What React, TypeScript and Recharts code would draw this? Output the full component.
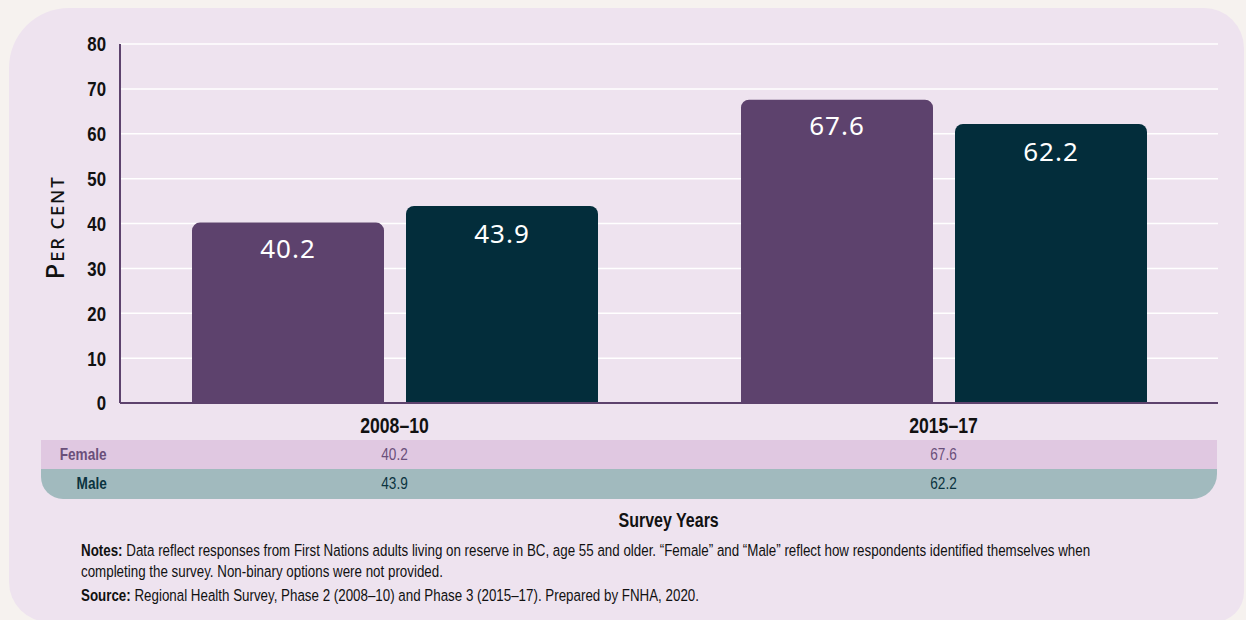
import React from "react";
import {
  BarChart, Bar, XAxis, YAxis, CartesianGrid, LabelList, Label,
} from "recharts";

// Share of adults 55+ (per cent), by survey period and gender
const years = ["2008–10", "2015–17"];
const female = [40.2, 67.6];
const male = [43.9, 62.2];
const yTicks = [0, 10, 20, 30, 40, 50, 60, 70, 80];

const data = years.map((y, i) => ({ year: y, female: female[i], male: male[i] }));

const FEMALE = "#5d426d";
const MALE = "#032d3b";
const SANS = "'Liberation Sans', Arial, sans-serif";
const GEO = "'Noto Sans', 'Open Sans', sans-serif";
const SQUEEZE = 0.8; // no narrow font installed, so squeeze Liberation Sans

const PLOT_L = 120;
const PLOT_R = 1218;
const band = (PLOT_R - PLOT_L) / years.length;

function NarrowTick(props: any) {
  const { x, y, payload, textAnchor, fontSize, dy } = props;
  return (
    <g transform={`translate(${x},${y}) scale(${SQUEEZE},1)`}>
      <text x={0} y={0} dy={dy} textAnchor={textAnchor} fill="#111" fontFamily={SANS} fontWeight={700} fontSize={fontSize}>
        {payload.value}
      </text>
    </g>
  );
}

function PerCentLabel(props: any) {
  const vb = props.viewBox || { x: 60, y: 44, height: 359 };
  const cx = vb.x + 4;
  const cy = vb.y + vb.height / 2 + 4;
  return (
    <text
      x={cx}
      y={cy}
      transform={`rotate(-90, ${cx}, ${cy})`}
      textAnchor="middle"
      fill="#111"
      fontFamily={GEO}
      fontWeight={500}
      letterSpacing={1.8}
    >
      <tspan fontSize={26}>P</tspan>
      <tspan fontSize={18.5}>ER CENT</tspan>
    </text>
  );
}

function Narrow({ children, origin = "left", style }: { children: React.ReactNode; origin?: string; style?: React.CSSProperties }) {
  return (
    <span style={{ display: "inline-block", whiteSpace: "nowrap", transform: `scaleX(${SQUEEZE})`, transformOrigin: origin, ...style }}>
      {children}
    </span>
  );
}

export default function App() {
  const rowLabel: React.CSSProperties = {
    position: "absolute", left: 0, width: 107, textAlign: "right",
    fontFamily: SANS, fontWeight: 700, fontSize: 17,
  };
  const rowValue = (i: number): React.CSSProperties => ({
    position: "absolute", left: PLOT_L + band * (i + 0.5) - 41 - 50, width: 100,
    textAlign: "center", fontFamily: SANS, fontSize: 17,
  });
  const noteStyle: React.CSSProperties = {
    position: "absolute", left: 81, fontFamily: SANS, fontSize: 16.7, lineHeight: "20px", color: "#111",
  };

  return (
    <div style={{ position: "absolute", left: 0, top: 0, width: 1246, height: 620, background: "#f6f2ef", overflow: "hidden" }}>
      <div
        style={{
          position: "absolute", left: 9, top: 8, width: 1235, height: 614,
          background: "#eee3ef", borderRadius: "60px 40px 30px 40px",
        }}
      />
      <div style={{ position: "absolute", left: 0, top: 0 }}>
        <BarChart
          width={1246}
          height={440}
          data={data}
          margin={{ top: 44, right: 1246 - PLOT_R, left: 60, bottom: 7 }}
          barSize={192}
          barGap={22}
        >
          <CartesianGrid vertical={false} stroke="#ffffff" strokeWidth={1.5} />
          <XAxis
            dataKey="year"
            height={30}
            tickLine={false}
            tickMargin={8}
            axisLine={{ stroke: "#5d426d", strokeWidth: 2 }}
            tick={<NarrowTick fontSize={22} dy="0.71em" />}
          />
          <YAxis
            width={60}
            domain={[0, 80]}
            ticks={yTicks}
            interval={0}
            tickLine={false}
            tickMargin={8}
            axisLine={{ stroke: "#5d426d", strokeWidth: 2 }}
            tick={<NarrowTick fontSize={21} dy="0.355em" />}
          >
            <Label content={<PerCentLabel />} />
          </YAxis>
          <Bar dataKey="female" fill={FEMALE} radius={[8, 8, 0, 0]} isAnimationActive={false}>
            <LabelList
              dataKey="female"
              position="insideTop"
              offset={17}
              fill="#fff"
              style={{ fontFamily: GEO, fontSize: 26, letterSpacing: 1 }}
            />
          </Bar>
          <Bar dataKey="male" fill={MALE} radius={[8, 8, 0, 0]} isAnimationActive={false}>
            <LabelList
              dataKey="male"
              position="insideTop"
              offset={19}
              fill="#fff"
              style={{ fontFamily: GEO, fontSize: 26, letterSpacing: 1 }}
            />
          </Bar>
        </BarChart>
      </div>

      {/* data table under the axis */}
      <div style={{ position: "absolute", left: 41, top: 440, width: 1176, height: 29, background: "#e0c8e1", color: "#6a4f7a", lineHeight: "29px" }}>
        <div style={{ ...rowLabel, left: -41 }}><Narrow origin="right">Female</Narrow></div>
        {female.map((v, i) => (
          <div key={i} style={rowValue(i)}><Narrow origin="center">{v.toFixed(1)}</Narrow></div>
        ))}
      </div>
      <div style={{ position: "absolute", left: 41, top: 469, width: 1176, height: 30, background: "#a1babe", color: "#0b3340", lineHeight: "30px", borderRadius: "0 0 25px 22px" }}>
        <div style={{ ...rowLabel, left: -41 }}><Narrow origin="right">Male</Narrow></div>
        {male.map((v, i) => (
          <div key={i} style={rowValue(i)}><Narrow origin="center">{v.toFixed(1)}</Narrow></div>
        ))}
      </div>

      <div style={{ position: "absolute", left: PLOT_L, width: PLOT_R - PLOT_L, top: 509, textAlign: "center", fontFamily: SANS, fontWeight: 700, fontSize: 20, color: "#111" }}>
        <Narrow origin="center">Survey Years</Narrow>
      </div>

      <div style={{ ...noteStyle, top: 541 }}>
        <Narrow><b>Notes:</b> Data reflect responses from First Nations adults living on reserve in BC, age 55 and older. “Female” and “Male” reflect how respondents identified themselves when</Narrow>
      </div>
      <div style={{ ...noteStyle, top: 562 }}>
        <Narrow>completing the survey. Non-binary options were not provided.</Narrow>
      </div>
      <div style={{ ...noteStyle, top: 586 }}>
        <Narrow><b>Source:</b> Regional Health Survey, Phase 2 (2008–10) and Phase 3 (2015–17). Prepared by FNHA, 2020.</Narrow>
      </div>
    </div>
  );
}
